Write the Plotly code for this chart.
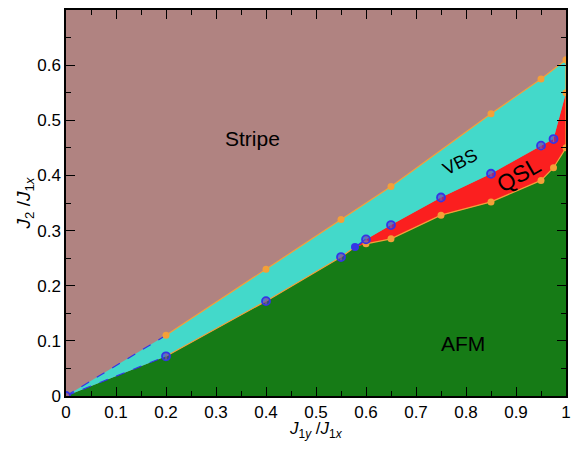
import plotly.graph_objects as go

# Stripe / VBS boundary (orange points)
stripe_x = [0, 0.2, 0.4, 0.55, 0.65, 0.85, 0.95, 1.0]
stripe_y = [0, 0.11, 0.23, 0.32, 0.38, 0.512, 0.575, 0.61]

# VBS lower boundary (blue circles)
vbs_x = [0, 0.2, 0.4, 0.55, 0.6, 0.65, 0.75, 0.85, 0.95, 0.975]
vbs_y = [0, 0.072, 0.172, 0.252, 0.284, 0.31, 0.36, 0.403, 0.454, 0.466]

# QSL onset (filled blue point)
onset_x = [0.578]
onset_y = [0.27]

# QSL / AFM boundary (orange points)
qsl_x = [0.6, 0.65, 0.75, 0.85, 0.95, 0.975, 1.0]
qsl_y = [0.276, 0.285, 0.328, 0.352, 0.391, 0.414, 0.45]

# VBS / QSL point at J1y = 1
edge_x = [1.0]
edge_y = [0.55]

x_ticks = [0, 0.1, 0.2, 0.3, 0.4, 0.5, 0.6, 0.7, 0.8, 0.9, 1.0]
x_labels = ["0", "0.1", "0.2", "0.3", "0.4", "0.5", "0.6", "0.7", "0.8", "0.9", "1"]
y_ticks = [0, 0.1, 0.2, 0.3, 0.4, 0.5, 0.6]
y_labels = ["0", "0.1", "0.2", "0.3", "0.4", "0.5", "0.6"]

C_STRIPE = "#B08381"
C_VBS = "#43D9CA"
C_QSL = "#FB1F1F"
C_AFM = "#167B16"
C_OR = "#F4A038"
C_BL = "#3434E6"

fig = go.Figure()

# AFM region: below the lowest boundary
low_x = vbs_x[:4] + onset_x + qsl_x
low_y = vbs_y[:4] + onset_y + qsl_y
fig.add_trace(go.Scatter(x=low_x + [1.0, 0.0], y=low_y + [0.0, 0.0], fill="toself",
                         fillcolor=C_AFM, line=dict(width=0), mode="lines", hoverinfo="skip"))

# QSL region
up_q_x = onset_x + vbs_x[4:] + edge_x
up_q_y = onset_y + vbs_y[4:] + edge_y
fig.add_trace(go.Scatter(x=up_q_x + qsl_x[::-1], y=up_q_y + qsl_y[::-1], fill="toself",
                         fillcolor=C_QSL, line=dict(width=0), mode="lines", hoverinfo="skip"))

# VBS region
mid_x = vbs_x[:4] + onset_x + vbs_x[4:] + edge_x
mid_y = vbs_y[:4] + onset_y + vbs_y[4:] + edge_y
fig.add_trace(go.Scatter(x=stripe_x + mid_x[::-1], y=stripe_y + mid_y[::-1], fill="toself",
                         fillcolor=C_VBS, line=dict(width=0), mode="lines", hoverinfo="skip"))

# boundary lines (solid part)
fig.add_trace(go.Scatter(x=stripe_x[1:], y=stripe_y[1:], mode="lines",
                         line=dict(color=C_OR, width=1.2), hoverinfo="skip"))
fig.add_trace(go.Scatter(x=vbs_x[1:4] + onset_x, y=vbs_y[1:4] + onset_y, mode="lines",
                         line=dict(color=C_OR, width=1.2), hoverinfo="skip"))
fig.add_trace(go.Scatter(x=qsl_x, y=qsl_y, mode="lines",
                         line=dict(color=C_OR, width=1.2), hoverinfo="skip"))
fig.add_trace(go.Scatter(x=[qsl_x[-1]] + edge_x + [stripe_x[-1]],
                         y=[qsl_y[-1]] + edge_y + [stripe_y[-1]], mode="lines",
                         line=dict(color=C_OR, width=1.2), hoverinfo="skip"))
fig.add_trace(go.Scatter(x=onset_x + vbs_x[4:5], y=onset_y + vbs_y[4:5], mode="lines",
                         line=dict(color=C_BL, width=1.5), hoverinfo="skip"))

# dashed segments near origin
fig.add_trace(go.Scatter(x=stripe_x[:2], y=stripe_y[:2], mode="lines",
                         line=dict(color=C_BL, width=1.2, dash="dash"), hoverinfo="skip"))
fig.add_trace(go.Scatter(x=vbs_x[:2], y=vbs_y[:2], mode="lines",
                         line=dict(color=C_BL, width=1.2, dash="dash"), hoverinfo="skip"))

# orange markers
fig.add_trace(go.Scatter(x=stripe_x + qsl_x + edge_x, y=stripe_y + qsl_y + edge_y, mode="markers",
                         marker=dict(color=C_OR, size=7, symbol="circle", line=dict(width=0)),
                         hoverinfo="skip"))

# blue markers
fig.add_trace(go.Scatter(x=vbs_x, y=vbs_y, mode="markers",
                         marker=dict(color="rgba(70,50,210,0.55)", size=8,
                                     line=dict(color=C_BL, width=1.8)),
                         error_y=dict(type="constant", value=0.006, color=C_OR, thickness=1, width=3),
                         hoverinfo="skip"))
fig.add_trace(go.Scatter(x=onset_x, y=onset_y, mode="markers",
                         marker=dict(color=C_BL, size=8), hoverinfo="skip"))

font_txt = "Liberation Sans, Arial, sans-serif"
ann = [
    dict(x=0.372, y=0.467, text="Stripe", size=21, angle=0),
    dict(x=0.788, y=0.425, text="VBS", size=18, angle=-27),
    dict(x=0.905, y=0.40, text="QSL", size=23, angle=-30),
    dict(x=0.793, y=0.096, text="AFM", size=21, angle=0),
]
for a in ann:
    fig.add_annotation(x=a["x"], y=a["y"], text=a["text"], showarrow=False,
                       textangle=a["angle"], font=dict(size=a["size"], color="black", family=font_txt))

# x-axis title placed below the tick labels
fig.add_annotation(x=0.5, xref="paper", y=0, yref="paper", yshift=-34, yanchor="middle",
                   text="<i>J</i><sub>1<i>y</i></sub> /<i>J</i><sub>1<i>x</i></sub>",
                   showarrow=False, font=dict(size=17, color="black", family=font_txt))

axis_common = dict(
    showline=True, linecolor="black", linewidth=1.5, mirror="ticks",
    ticks="inside", ticklen=9, tickwidth=1.2, tickcolor="black",
    showgrid=False, zeroline=False,
    tickfont=dict(size=17, color="black", family=font_txt),
)
fig.update_xaxes(range=[0, 1], tickvals=x_ticks, ticktext=x_labels,
                 minor=dict(ticks="inside", ticklen=5, dtick=0.05, tick0=0, tickcolor="black", tickwidth=1),
                 **axis_common)
fig.update_yaxes(range=[0, 0.7], tickvals=y_ticks, ticktext=y_labels,
                 minor=dict(ticks="inside", ticklen=5, dtick=0.05, tick0=0, tickcolor="black", tickwidth=1),
                 title=dict(text="<i>J</i><sub>2</sub> /<i>J</i><sub>1<i>x</i></sub>",
                            font=dict(size=19, color="black", family=font_txt), standoff=2),
                 **axis_common)

# the page body adds an 8px margin; figure sized so the plot area lands where the reference has it
fig.update_layout(
    width=563, height=433,
    margin=dict(l=58, r=5, t=2, b=45, autoexpand=False),
    plot_bgcolor=C_STRIPE, paper_bgcolor="white",
    showlegend=False,
)

fig.write_html("out.html")
